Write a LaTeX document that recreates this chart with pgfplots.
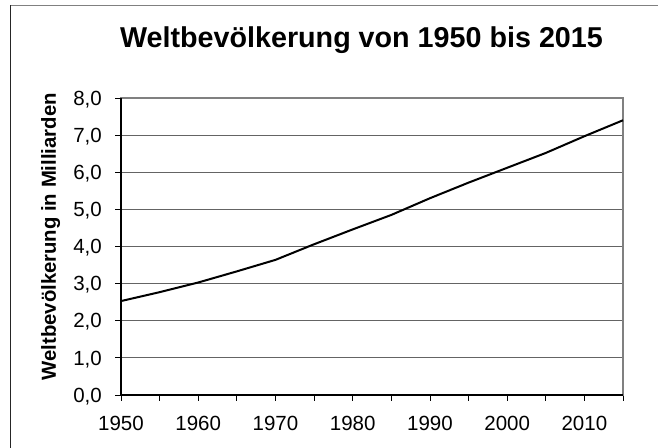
\documentclass[border=0pt]{standalone}
\usepackage{fontspec}
\setmainfont{Liberation Sans}
\usepackage{pgfplots}
\pgfplotsset{compat=1.18}
\definecolor{gridgray}{RGB}{100,100,100}
\definecolor{boxgray}{RGB}{128,128,128}
\begin{document}
\begin{tikzpicture}[x=1bp,y=1bp]
\useasboundingbox (0,0) rectangle (658,448);
\draw[line width=1.2bp, boxgray] (10,442.3) -- (658,442.3);
\draw[line width=1.2bp, black!85] (10.7,0) -- (10.7,442.9);
\begin{axis}[
  at={(121bp,53bp)}, anchor=south west,
  scale only axis, width=502bp, height=297bp,
  xmin=1950, xmax=2015, ymin=0, ymax=8,
  xtick={1950,1960,...,2010},
  minor xtick={1955,1965,...,2015},
  ytick={0,1,...,8},
  xtick pos=left, ytick pos=left,
  tick align=outside,
  major tick length=6bp, minor tick length=6bp,
  tick style={black, line width=0.8bp},
  ymajorgrids,
  major grid style={gridgray, line width=0.8bp},
  axis line style={boxgray, line width=1.2bp},
  clip=false,
  x tick label style={/pgf/number format/1000 sep={}, /pgf/number format/assume math mode=true},
  y tick label style={/pgf/number format/fixed, /pgf/number format/fixed zerofill,
    /pgf/number format/precision=1, /pgf/number format/use comma,
    /pgf/number format/assume math mode=true},
  tick label style={font=\fontsize{20.5bp}{24bp}\selectfont},
  yticklabel style={inner sep=0pt, anchor=east, text depth=0pt, xshift=-13bp},
  xticklabel style={inner sep=0pt, anchor=north, yshift=-15bp},
  title={Weltbevölkerung von 1950 bis 2015},
  title style={font=\fontsize{28.7bp}{32bp}\selectfont\bfseries, anchor=base, inner sep=0pt,
    at={(axis description cs:0.479,1.1505)}},
  ylabel={Weltbevölkerung in Milliarden},
  ylabel style={font=\fontsize{20.3bp}{24bp}\selectfont\bfseries, anchor=base east, inner sep=0pt,
    at={(axis description cs:-0.1295,1.0168)}},
]
\addplot[black, line width=2bp] coordinates {
(1950,2.53) (1955,2.77) (1960,3.03) (1965,3.33) (1970,3.64) (1975,4.06)
(1980,4.46) (1985,4.85) (1990,5.30) (1995,5.72) (2000,6.12) (2005,6.52)
(2010,6.97) (2015,7.40)
};
\draw[black, line width=1.2bp] (rel axis cs:0,1) -- (rel axis cs:0,0) -- (rel axis cs:1,0);
\end{axis}
\end{tikzpicture}
\end{document}
